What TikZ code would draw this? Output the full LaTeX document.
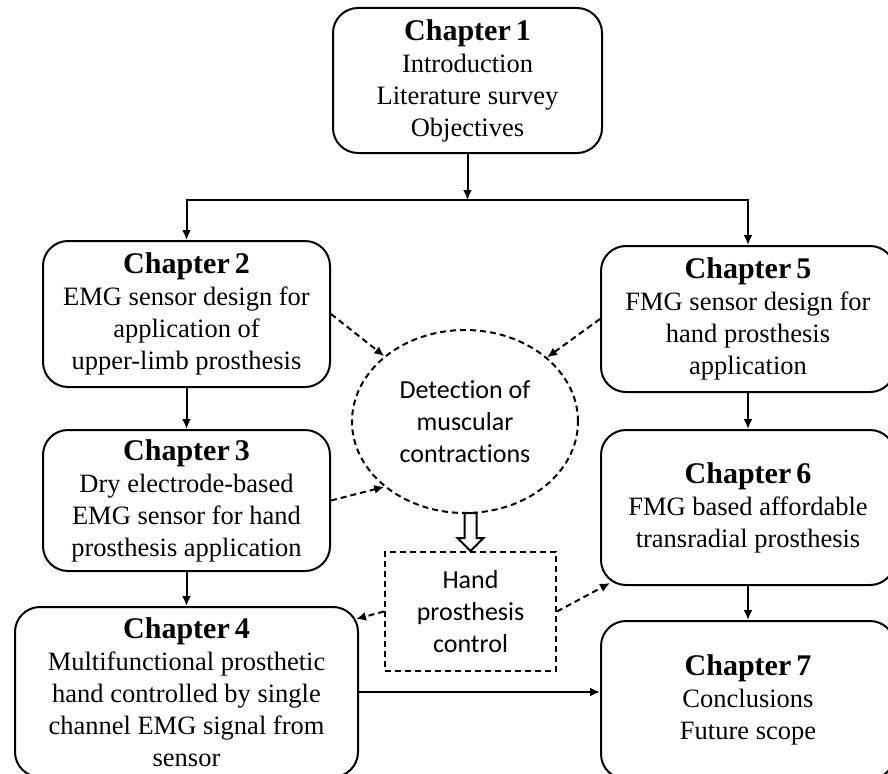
\documentclass[tikz,border=0pt]{standalone}
\usepackage{fontspec}
\setmainfont{Liberation Serif}
\newfontfamily\labelfont[Ligatures=CommonOff]{Carlito}
\usetikzlibrary{arrows.meta,shapes.geometric,calc}

\newcommand{\chaphead}[1]{{\fontsize{30}{32}\selectfont\bfseries Chapter\,#1}}

\begin{document}
\begin{tikzpicture}[x=1pt, y=-1pt,
    chap/.style={draw, rounded corners=25pt, line width=2pt, align=center, inner sep=0pt,
        font=\fontsize{26.5}{32}\selectfont},
    idea/.style={draw, dash pattern=on 6pt off 4pt, line width=2pt, align=center, inner sep=0pt,
        font=\labelfont\fontsize{26}{32}\selectfont},
    link/.style={line width=2pt, -{Latex[length=10pt,width=9pt]}},
    hint/.style={link, dash pattern=on 6pt off 4pt}]
    \useasboundingbox (0,0) rectangle (888,773);
    \clip (0,0) rectangle (888,773);

    % chapters
    \node[chap, minimum width=269, minimum height=145] (ch1) at (467.5,80.5)
        {\chaphead{1}\\ Introduction\\ Literature survey\\ Objectives};
    \node[chap, minimum width=287, minimum height=146] (ch2) at (186.5,314)
        {\chaphead{2}\\ EMG sensor design for\\ application of\\ upper-limb prosthesis};
    \node[chap, minimum width=287, minimum height=141] (ch3) at (186.5,500.5)
        {\chaphead{3}\\ Dry electrode-based\\ EMG sensor for hand\\ prosthesis application};
    \node[chap, minimum width=343, minimum height=170] (ch4) at (186.5,692)
        {\chaphead{4}\\ Multifunctional prosthetic\\ hand controlled by single\\ channel EMG signal from\\ sensor};
    \node[chap, minimum width=294, minimum height=146] (ch5) at (748,319)
        {\chaphead{5}\\ FMG sensor design for\\ hand prosthesis\\ application};
    \node[chap, minimum width=294, minimum height=155] (ch6) at (748,507.5)
        {\chaphead{6}\\ FMG based affordable\\ transradial prosthesis};
    \node[chap, minimum width=294, minimum height=158] (ch7) at (748,700)
        {\chaphead{7}\\ Conclusions\\ Future scope};

    % dashed ideas
    \node[idea, ellipse, minimum width=226, minimum height=183] (ell) at (465,421.5)
        {Detection of\\ muscular\\ contractions};
    \node[idea, rectangle, minimum width=171, minimum height=119] (ctrl) at (470.5,611.5)
        {Hand\\ prosthesis\\ control};

    \coordinate (split) at (467.5,200);
    \draw[link] (ch1) -- (split);
    \draw[link] (split) -| (ch2);
    \draw[link] (split) -| (ch5);
    \draw[link] (ch2) -- (ch3);
    \draw[link] (ch3) -- (ch4);
    \draw[link] (ch5) -- (ch6);
    \draw[link] (ch6) -- (ch7);
    \draw[link] (ch4.east) -- (ch4.east -| ch7.west);

    \draw[hint] (ch2.east) -- (ell.141);
    \draw[hint] (ch3.east) -- (ell.219);
    \draw[hint] (ch5.west) -- (ell.38);
    \draw[hint] (ctrl.west) -- ($(ch4.north east)+(-3,13)$);
    \draw[hint] (ctrl.east) -- ($(ch6.south west)+(10,-3)$);

    % hollow arrow
    \draw[line width=2pt, line join=miter] ($(ctrl.north)+(-6,-38)$) -- ++(0,25) -- ++(-7,0)
        -- ++(13,13) -- ++(13,-13) -- ++(-7,0) -- ++(0,-25) -- cycle;
\end{tikzpicture}
\end{document}
